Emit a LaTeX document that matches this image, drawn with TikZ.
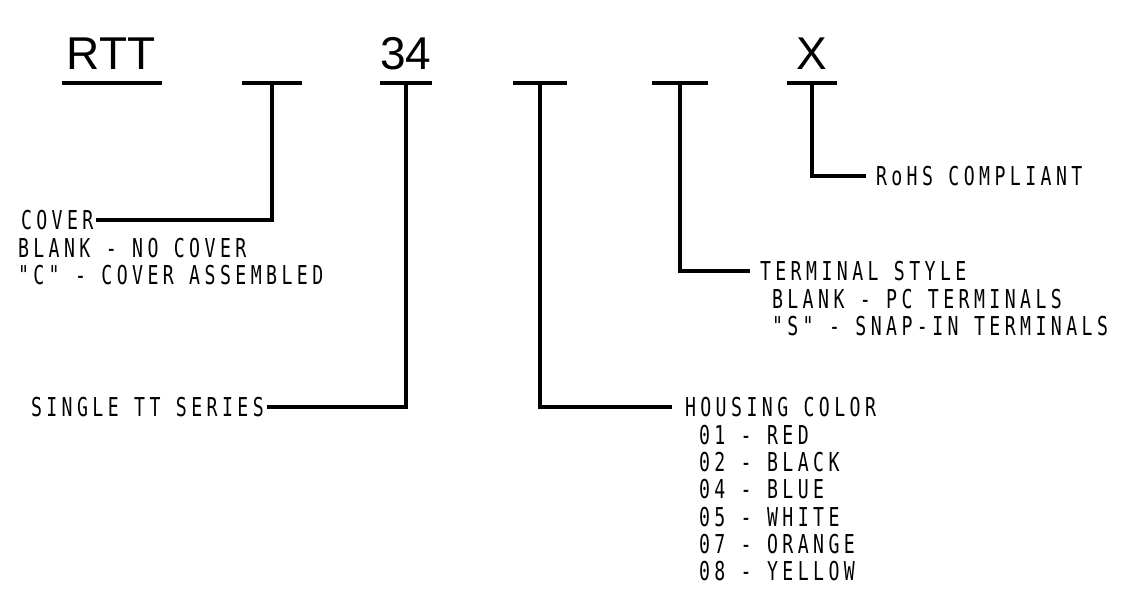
\documentclass[tikz,border=0pt]{standalone}
\usepackage{fontspec}
\setmainfont{Liberation Sans}
\newfontfamily\cad[FakeStretch=0.7,LetterSpace=17,Ligatures=TeXOff]{DejaVu Sans Mono}
\begin{document}
\begin{tikzpicture}[x=1pt,y=-1pt,
  part/.style={font=\fontsize{46}{50}\selectfont, inner sep=0pt, anchor=base},
  bar/.style={line width=3.2pt},
  lead/.style={line width=3.2pt},
  cadfont/.style={font=\cad\fontsize{26}{27.3}\selectfont, inner sep=0pt},
  lefttitle/.style={cadfont, anchor=west, outer xsep=3pt, outer ysep=0pt},
  righttitle/.style={cadfont, anchor=west, outer xsep=0pt, outer ysep=0pt},
  caddet/.style={cadfont, outer sep=0pt, align=left, anchor=north west}]
\useasboundingbox (0,0) rectangle (1141,605);
% part number characters
\node[part] (rtt) at (111,69) {RTT};
\node[part] (n34) at (406,69) {34};
\node[part] (x) at (812,69) {X};
% bar centres
\coordinate (t0) at (112,83);
\coordinate (t1) at (272,83);
\coordinate (t2) at (406,83);
\coordinate (t3) at (540,83);
\coordinate (t4) at (680,83);
\coordinate (t5) at (812,83);
\draw[bar] ([xshift=-50]t0) -- ([xshift=50]t0);
\draw[bar] ([xshift=-30]t1) -- ([xshift=30]t1);
\draw[bar] ([xshift=-26]t2) -- ([xshift=26]t2);
\draw[bar] ([xshift=-27]t3) -- ([xshift=27]t3);
\draw[bar] ([xshift=-28]t4) -- ([xshift=28]t4);
\draw[bar] ([xshift=-25]t5) -- ([xshift=25]t5);
% connector ends on the right-hand side
\coordinate (e3) at (672,407);
\coordinate (e4) at (750,271);
\coordinate (e5) at (866,176);
% texts
\node[lefttitle] (cover) at (18,220) {COVER};
\node[caddet] (coverd) at (18,238) {BLANK - NO COVER\\"C" - COVER ASSEMBLED};
\node[lefttitle] (single) at (28,407) {SINGLE TT SERIES};
\node[righttitle] (housing) at (685,407) {HOUSING COLOR};
\node[caddet] (housingd) at (699,425) {01 - RED\\02 - BLACK\\04 - BLUE\\05 - WHITE\\07 - ORANGE\\08 - YELLOW};
\node[righttitle] (term) at (760,271) {TERMINAL STYLE};
\node[caddet] (termd) at (772,289) {BLANK - PC TERMINALS\\"S" - SNAP-IN TERMINALS};
\node[righttitle] (rohs) at (876,176) {RoHS COMPLIANT};
% leaders
\draw[lead] (t1) |- (cover.east);
\draw[lead] (t2) |- (single.east);
\draw[lead] (t3) |- (e3);
\draw[lead] (t4) |- (e4);
\draw[lead] (t5) |- (e5);
\end{tikzpicture}
\end{document}
